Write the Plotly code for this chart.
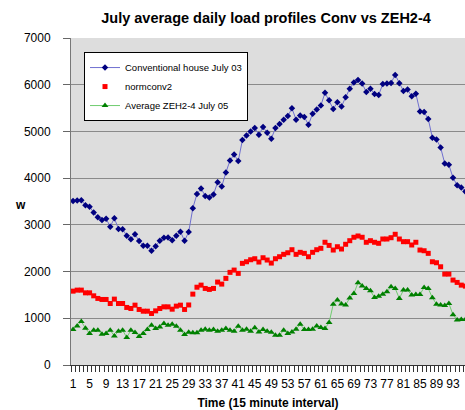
import plotly.graph_objects as go

intervals = list(range(1, 97))

conv_july03 = [3510, 3520, 3528, 3420, 3390, 3262, 3163, 3105, 3133, 2961,
               3142, 2912, 2905, 2768, 2691, 2798, 2654, 2554, 2554, 2446,
               2540, 2661, 2725, 2732, 2669, 2768, 2854, 2661, 2848, 3356,
               3663, 3777, 3620, 3584, 3648, 3914, 3820, 4120, 4378, 4506,
               4365, 4815, 4914, 5000, 5073, 4929, 5094, 4972, 4843, 5073,
               5159, 5251, 5330, 5494, 5251, 5343, 5309, 5144, 5380, 5472,
               5555, 5827, 5670, 5481, 5622, 5536, 5730, 5916, 6045, 6103,
               6024, 5845, 5916, 5803, 5781, 6017, 6024, 6039, 6210, 6030,
               5867, 5895, 5751, 5809, 5429, 5416, 5266, 4865, 4828, 4657,
               4313, 4285, 4006, 3850, 3798, 3712]

normconv2 = [1581, 1603, 1603, 1545, 1545, 1481, 1425, 1403, 1403, 1317,
             1410, 1317, 1317, 1232, 1210, 1281, 1189, 1152, 1152, 1103,
             1159, 1210, 1245, 1245, 1195, 1260, 1281, 1189, 1285, 1517,
             1665, 1710, 1639, 1618, 1639, 1775, 1732, 1854, 1983, 2032,
             1961, 2176, 2210, 2253, 2275, 2204, 2296, 2247, 2182, 2275,
             2318, 2369, 2403, 2468, 2369, 2412, 2390, 2318, 2412, 2468,
             2498, 2627, 2560, 2461, 2532, 2483, 2584, 2661, 2734, 2762,
             2734, 2627, 2661, 2627, 2605, 2697, 2697, 2725, 2798, 2697,
             2640, 2640, 2569, 2627, 2461, 2446, 2390, 2210, 2189, 2103,
             1946, 1946, 1818, 1768, 1710, 1689]

zeh_july05 = [760, 837, 931, 788, 674, 745, 745, 659, 674, 745,
              622, 723, 745, 588, 745, 695, 609, 674, 760, 852,
              781, 816, 888, 852, 873, 830, 745, 652, 702, 690,
              690, 745, 766, 745, 759, 723, 745, 781, 745, 723,
              830, 745, 766, 723, 795, 708, 759, 723, 700, 637,
              637, 745, 673, 708, 766, 870, 762, 762, 766, 835,
              802, 781, 910, 1300, 1390, 1305, 1285, 1435, 1530, 1760,
              1689, 1639, 1588, 1446, 1474, 1517, 1567, 1674, 1639, 1425,
              1603, 1603, 1496, 1510, 1510, 1661, 1639, 1440, 1303, 1285,
              1275, 1317, 1074, 965, 974, 974]

x_tick_vals = list(range(1, 97, 4))
x_tick_text = [str(v) for v in x_tick_vals]
y_tick_vals = [0, 1000, 2000, 3000, 4000, 5000, 6000, 7000]

FONT = "Arial, Liberation Sans, sans-serif"
W, H = 465, 410

fig = go.Figure()
fig.add_trace(go.Scatter(
    x=intervals, y=conv_july03, name="Conventional house July 03",
    mode="lines+markers",
    line=dict(color="#7070D0", width=1),
    marker=dict(symbol="diamond", size=5, color="#000080"),
))
fig.add_trace(go.Scatter(
    x=intervals, y=normconv2, name="normconv2",
    mode="markers",
    marker=dict(symbol="square", size=5, color="#FF0000"),
))
fig.add_trace(go.Scatter(
    x=intervals, y=zeh_july05, name="Average ZEH2-4 July 05",
    mode="lines+markers",
    line=dict(color="#70CC70", width=1),
    marker=dict(symbol="triangle-up", size=6, color="#008000"),
))

fig.update_layout(
    width=W, height=H,
    margin=dict(l=71, r=0, t=38, b=45, autoexpand=False),
    paper_bgcolor="white",
    plot_bgcolor="#DDDDDD",
    font=dict(family=FONT, size=12, color="black"),
    title=dict(text="July average daily load profiles Conv vs ZEH2-4",
               font=dict(family=FONT, size=14.5, weight="bold", color="black"),
               x=0.495, xref="paper", xanchor="center",
               y=1 - 18 / H, yref="container", yanchor="middle"),
    showlegend=True,
    legend=dict(x=0.033, y=0.957, xanchor="left", yanchor="top",
                bgcolor="white", bordercolor="black", borderwidth=1,
                font=dict(family=FONT, size=9.5, color="black"),
                tracegroupgap=0, itemwidth=30),
    xaxis=dict(
        range=[0.5, 95.9], showgrid=False, zeroline=False,
        tickmode="array", tickvals=x_tick_vals, ticktext=x_tick_text,
        ticks="", ticklabelstandoff=8,
        tickfont=dict(family=FONT, size=12, color="black"),
        showline=True, linecolor="#333333", linewidth=1,
        minor=dict(tickmode="array",
                   tickvals=[v + 0.5 for v in range(0, 96)],
                   ticks="outside", ticklen=6, tickcolor="#333333"),
        title=dict(text="Time (15 minute interval)",
                   font=dict(family=FONT, size=12, weight="bold"),
                   standoff=8),
    ),
    yaxis=dict(
        range=[0, 7000], tickmode="array", tickvals=y_tick_vals,
        showgrid=True, gridcolor="#8A8A8A", gridwidth=1, zeroline=False,
        ticks="outside", ticklen=7, tickcolor="#666666",
        ticklabelstandoff=10,
        tickfont=dict(family=FONT, size=12, color="black"),
        showline=True, linecolor="#777777", linewidth=1,
    ),
    annotations=[dict(text="<b>w</b>", xref="paper", yref="paper",
                      x=(13 - 71) / 394, y=0.49, showarrow=False,
                      font=dict(family=FONT, size=12, color="black"))],
)

fig.write_html(
    "out.html",
    config={"displayModeBar": False},
    post_script="document.body.style.margin='0';"
                "document.body.style.overflow='hidden';",
)
